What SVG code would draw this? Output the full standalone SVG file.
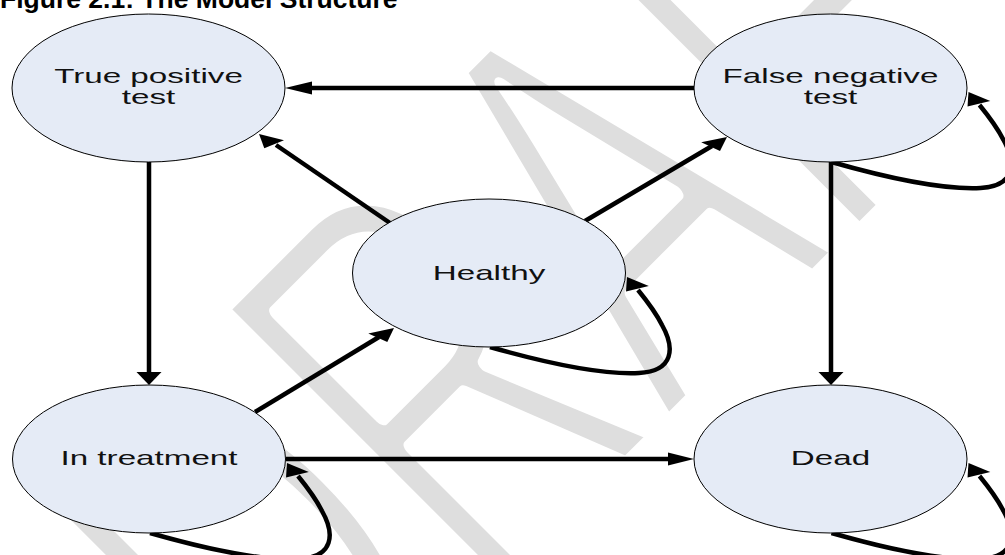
<svg xmlns="http://www.w3.org/2000/svg" width="1005" height="555" viewBox="0 0 1005 555">
<style>
.wm{font-family:"Liberation Sans",Arial,sans-serif;font-weight:normal;fill:#dedede;stroke:#fff;stroke-width:18;stroke-linejoin:round;paint-order:fill}
.title{font-family:"Liberation Sans",Arial,sans-serif;font-weight:bold;font-size:26.5px;fill:#000}
.node ellipse{fill:#e5ebf6;stroke:#000;stroke-width:1}
.lbl{font-family:"Liberation Sans",Arial,sans-serif;font-size:20px;fill:#111;text-anchor:middle}
.edge{fill:none;stroke:#000;stroke-width:4.5}
.head{fill:#000;stroke:none}
</style>
<rect width="1005" height="555" fill="#fff"/>
<text class="wm" font-size="580" transform="translate(297,796.3) rotate(-45) scale(0.628,1)">DRAFT</text>
<text class="title" x="0" y="8">Figure 2.1: The Model Structure</text>

<g id="connectors">
  <path class="edge" d="M694,88 L310,88"/>
  <polygon class="head" points="285,88 312,81.5 312,94.5"/>
  <path class="edge" d="M390,223 L276,145"/>
  <polygon class="head" points="259,134 284,140.2 264.3,148.3"/>
  <path class="edge" d="M585,221 L712,146"/>
  <polygon class="head" points="727,137 720,151.1 701.2,142.3"/>
  <path class="edge" d="M149,162 L149,374"/>
  <polygon class="head" points="149,385 136.5,372 161.5,372"/>
  <path class="edge" d="M831,162 L831,374"/>
  <polygon class="head" points="831,385 818.5,372 843.5,372"/>
  <path class="edge" d="M255,412 L379,337"/>
  <polygon class="head" points="394,328 387.3,342.1 368.3,333.5"/>
  <path class="edge" d="M286,459 L670,459"/>
  <polygon class="head" points="694,459 668,452.5 668,465.5"/>
  <g id="loop-healthy" transform="translate(489,273)">
    <path class="edge" d="M1,74 C50,88 110,102 150,100 C185,98 186,75 173,52 C166,38 158,28 149,17"/>
    <polygon class="head" points="138,4 159.8,13 137,18.6"/>
  </g>
  <g id="loop-fn" transform="translate(830.5,88)">
    <path class="edge" d="M1,74 C50,88 110,102 150,100 C185,98 186,75 173,52 C166,38 158,28 149,17"/>
    <polygon class="head" points="138,4 159.8,13 137,18.6"/>
  </g>
  <g id="loop-it" transform="translate(149,459)">
    <path class="edge" d="M1,74 C50,88 110,102 150,100 C185,98 186,75 173,52 C166,38 158,28 149,17"/>
    <polygon class="head" points="138,4 159.8,13 137,18.6"/>
  </g>
  <g id="loop-dead" transform="translate(830.5,459)">
    <path class="edge" d="M1,74 C50,88 110,102 150,100 C185,98 186,75 173,52 C166,38 158,28 149,17"/>
    <polygon class="head" points="138,4 159.8,13 137,18.6"/>
  </g>
</g>

<g id="node-true-positive" class="node">
  <ellipse cx="148.5" cy="88" rx="136.5" ry="74"/>
  <text class="lbl" transform="translate(148.5,83) scale(1.66,1)">True positive</text>
  <text class="lbl" transform="translate(148.5,104) scale(1.66,1)">test</text>
</g>
<g id="node-false-negative" class="node">
  <ellipse cx="830.5" cy="88" rx="136.5" ry="74"/>
  <text class="lbl" transform="translate(830.5,83) scale(1.66,1)">False negative</text>
  <text class="lbl" transform="translate(830.5,104) scale(1.66,1)">test</text>
</g>
<g id="node-healthy" class="node">
  <ellipse cx="489" cy="273" rx="136.5" ry="74"/>
  <text class="lbl" transform="translate(489,280) scale(1.66,1)">Healthy</text>
</g>
<g id="node-in-treatment" class="node">
  <ellipse cx="149" cy="459" rx="136.5" ry="74"/>
  <text class="lbl" transform="translate(149,464.5) scale(1.66,1)">In treatment</text>
</g>
<g id="node-dead" class="node">
  <ellipse cx="830.5" cy="459" rx="136.5" ry="74"/>
  <text class="lbl" transform="translate(830.5,464.5) scale(1.66,1)">Dead</text>
</g>
</svg>
